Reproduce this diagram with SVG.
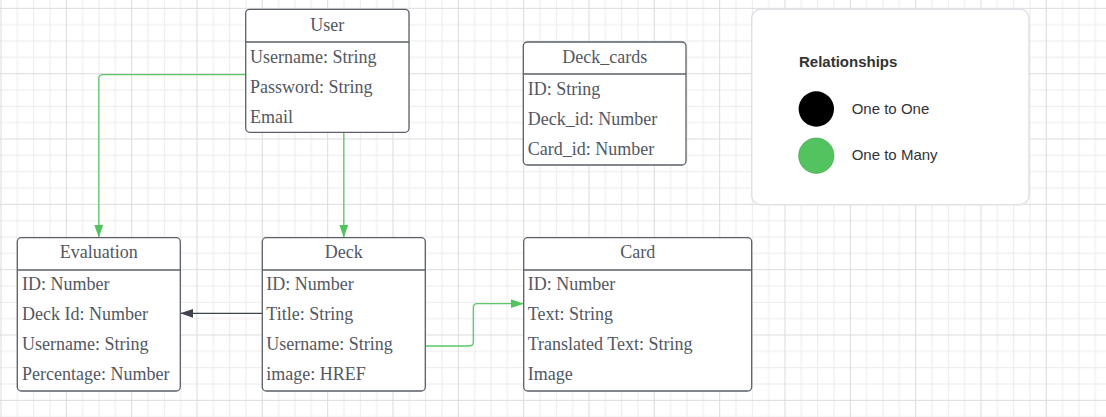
<svg xmlns="http://www.w3.org/2000/svg" width="1106" height="417" viewBox="0 0 1106 417">
<style>
.box{fill:#ffffff;stroke:#5a5f69;stroke-width:1.3}
.sep{stroke:#5a5f69;stroke-width:1.3}
.t{font-family:"Liberation Serif","Times New Roman",serif;font-size:18px;fill:#525762}
.h{text-anchor:middle}
.g{fill:none;stroke:#5cc767;stroke-width:1.3}
.d{fill:none;stroke:#3d424c;stroke-width:1.3}
.lg{font-family:"Liberation Sans",Arial,sans-serif;font-size:15px;fill:#333333}
</style>
<defs>
<pattern id="grid" patternUnits="userSpaceOnUse" x="0.5" y="7.83" width="65.333" height="65.333">
<rect x="0" y="0" width="65.333" height="65.333" fill="#ffffff"/>
<rect x="16.333" y="0" width="1" height="65.333" fill="#ececec"/>
<rect x="32.667" y="0" width="1" height="65.333" fill="#ececec"/>
<rect x="49" y="0" width="1" height="65.333" fill="#ececec"/>
<rect x="0" y="16.333" width="65.333" height="1" fill="#ececec"/>
<rect x="0" y="32.667" width="65.333" height="1" fill="#ececec"/>
<rect x="0" y="49" width="65.333" height="1" fill="#ececec"/>
<rect x="0" y="0" width="1" height="65.333" fill="#dcdcdc"/>
<rect x="0" y="0" width="65.333" height="1" fill="#dcdcdc"/>
</pattern>
<marker id="ag" markerUnits="userSpaceOnUse" markerWidth="14" markerHeight="10" refX="13" refY="4.5" orient="auto">
<path d="M0,0 L13,4.5 L0,9 z" fill="#52c35f"/>
</marker>
<marker id="ad" markerUnits="userSpaceOnUse" markerWidth="14" markerHeight="10" refX="13" refY="4.5" orient="auto">
<path d="M0,0 L13,4.5 L0,9 z" fill="#3d424c"/>
</marker>
</defs>
<rect x="0" y="0" width="1106" height="417" fill="url(#grid)"/>

<g id="connectors">
<path class="g" d="M245.7,74.7 H102.7 Q98.8,74.7 98.8,78.6 V237.7" marker-end="url(#ag)"/>
<path class="g" d="M343.8,132.3 V237.7" marker-end="url(#ag)"/>
<path class="d" d="M262.3,313.3 H180.3" marker-end="url(#ad)"/>
<path class="g" d="M425.7,346 H469.4 Q473.3,346 473.3,342.1 V307.6 Q473.3,303.7 477.2,303.7 H523.7" marker-end="url(#ag)"/>
</g>

<g id="user">
<rect class="box" x="245.7" y="9.3" width="163.3" height="123" rx="4"/>
<line class="sep" x1="245.7" y1="42" x2="409" y2="42"/>
<text class="t h" x="327.3" y="30.5">User</text>
<text class="t" x="250" y="62.5">Username: String</text>
<text class="t" x="250" y="92.5">Password: String</text>
<text class="t" x="250" y="122.5">Email</text>
</g>

<g id="deck_cards">
<rect class="box" x="523.3" y="42" width="162.7" height="123" rx="4"/>
<line class="sep" x1="523.3" y1="74" x2="686" y2="74"/>
<text class="t h" x="604.7" y="62.7">Deck_cards</text>
<text class="t" x="527.7" y="95">ID: String</text>
<text class="t" x="527.7" y="125">Deck_id: Number</text>
<text class="t" x="527.7" y="155">Card_id: Number</text>
</g>

<g id="evaluation">
<rect class="box" x="17.3" y="237.7" width="163" height="153.3" rx="4"/>
<line class="sep" x1="17.3" y1="270" x2="180.3" y2="270"/>
<text class="t h" x="98.8" y="258.3">Evaluation</text>
<text class="t" x="22" y="290">ID: Number</text>
<text class="t" x="22" y="320">Deck Id: Number</text>
<text class="t" x="22" y="350">Username: String</text>
<text class="t" x="22" y="380">Percentage: Number</text>
</g>

<g id="deck">
<rect class="box" x="262.3" y="237.7" width="163" height="153.3" rx="4"/>
<line class="sep" x1="262.3" y1="270" x2="425.3" y2="270"/>
<text class="t h" x="343.8" y="258.3">Deck</text>
<text class="t" x="266.3" y="290">ID: Number</text>
<text class="t" x="266.3" y="320">Title: String</text>
<text class="t" x="266.3" y="350">Username: String</text>
<text class="t" x="266.3" y="380">image: HREF</text>
</g>

<g id="card">
<rect class="box" x="523.7" y="237.7" width="228" height="153.3" rx="4"/>
<line class="sep" x1="523.7" y1="270" x2="751.7" y2="270"/>
<text class="t h" x="637.7" y="258.3">Card</text>
<text class="t" x="527.7" y="290">ID: Number</text>
<text class="t" x="527.7" y="320">Text: String</text>
<text class="t" x="527.7" y="350">Translated Text: String</text>
<text class="t" x="527.7" y="380">Image</text>
</g>

<g id="legend">
<rect x="751.7" y="9.3" width="277.3" height="195.4" rx="9" fill="#ffffff" stroke="#dfe1e6" stroke-width="1.5"/>
<text class="lg" x="799" y="66.5" font-weight="bold">Relationships</text>
<circle cx="816.3" cy="109" r="17.7" fill="#000000"/>
<text class="lg" x="851.7" y="113.5">One to One</text>
<circle cx="816.3" cy="155.7" r="17.7" fill="#52c35f" stroke="#3f9a4a" stroke-width="0.6"/>
<text class="lg" x="851.7" y="160.3">One to Many</text>
</g>
</svg>
